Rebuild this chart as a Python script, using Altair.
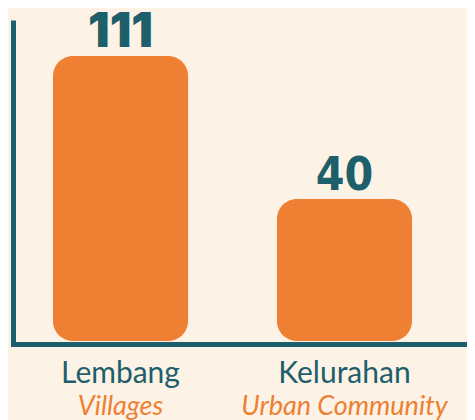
import altair as alt
import pandas as pd

categories = ["Lembang", "Kelurahan"]
subtitles = ["Villages", "Urban Community"]
values = [111, 40]

df = pd.DataFrame({"category": categories, "subtitle": subtitles, "value": values})

TEAL = "#1d5f6b"
ORANGE = "#ee7f33"
BG = "#fdf2e6"

x = alt.X(
    "category:N",
    sort=categories,
    scale=alt.Scale(paddingInner=0.397, paddingOuter=0.21205, align=0.421),
    axis=alt.Axis(title=None, labels=False, ticks=False, grid=False,
                  domainColor=TEAL, domainWidth=5, domainCap="square"),
)
yscale = alt.Scale(domain=[-32, 128.9], nice=False, zero=False)
y = alt.Y(
    "value:Q",
    scale=yscale,
    axis=alt.Axis(title=None, labels=False, ticks=False, grid=False,
                  domainColor=TEAL, domainWidth=5, domainCap="butt"),
)

base = alt.Chart(df)
bars = base.mark_bar(color=ORANGE, cornerRadius=20).encode(x=x, y=y, y2=alt.datum(-30.5))
num1 = base.transform_filter(alt.datum.category == categories[0]).mark_text(
    font="Inter", fontWeight=900, fontSize=48, color=TEAL, baseline="alphabetic", dy=-9
).encode(x=x, y=y, text="value:Q")
num2 = base.transform_filter(alt.datum.category == categories[1]).mark_text(
    font="DejaVu Sans Condensed", fontWeight="bold", fontSize=46, color=TEAL, baseline="alphabetic", dy=-9
).encode(x=x, y=y, text="value:Q")
names = base.mark_text(font="Lato", fontSize=30, color=TEAL,
                       baseline="alphabetic").encode(x=x, y=alt.value(363), text="category:N")
subs = base.mark_text(font="Lato", fontStyle="italic", fontSize=27, color=ORANGE,
                      baseline="alphabetic").encode(x=x, y=alt.value(395), text="subtitle:N")

chart = alt.layer(bars, num1, num2, names, subs).properties(
    width=454,
    height=324,
    padding={"left": 5, "top": 12, "right": 0, "bottom": 76},
    autosize=alt.AutoSizeParams(type="none"),
    background=BG,
).configure_view(stroke=None)

chart.save("out.html", embed_options={"renderer": "svg", "actions": False})
